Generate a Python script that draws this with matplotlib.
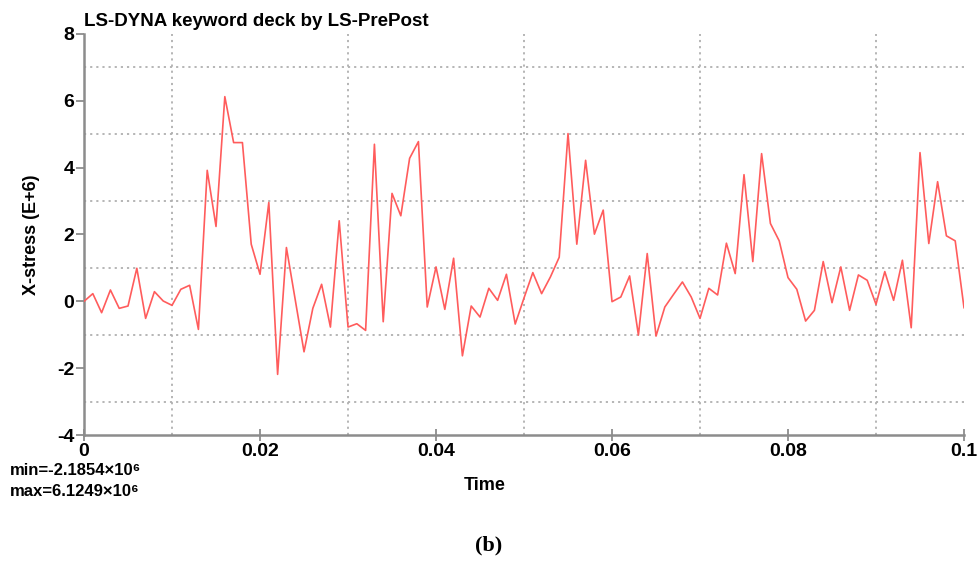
import numpy as np
import matplotlib
matplotlib.use("Agg")
import matplotlib.pyplot as plt
from matplotlib.ticker import FixedLocator

# X-stress history, one sample per millisecond (units of 1e6)
time = np.arange(101) * 0.001
stress = [
    0.00, 0.23, -0.34, 0.34, -0.21, -0.14, 0.99, -0.51, 0.29, 0.01,
    -0.12, 0.36, 0.48, -0.84, 3.92, 2.24, 6.1249, 4.75, 4.75, 1.71,
    0.81, 2.96, -2.1854, 1.61, 0.05, -1.51, -0.21, 0.51, -0.77, 2.41,
    -0.77, -0.67, -0.87, 4.70, -0.61, 3.23, 2.56, 4.28, 4.78, -0.17,
    1.03, -0.24, 1.29, -1.63, -0.14, -0.47, 0.39, 0.03, 0.81, -0.68,
    0.10, 0.86, 0.23, 0.73, 1.32, 5.02, 1.71, 4.22, 2.01, 2.73,
    -0.01, 0.13, 0.76, -1.01, 1.43, -1.04, -0.17, 0.21, 0.58, 0.13,
    -0.51, 0.39, 0.19, 1.74, 0.83, 3.79, 1.19, 4.42, 2.33, 1.81,
    0.71, 0.36, -0.59, -0.27, 1.19, -0.04, 1.03, -0.27, 0.79, 0.63,
    -0.09, 0.89, 0.03, 1.23, -0.79, 4.45, 1.73, 3.58, 1.96, 1.81,
    -0.19,
]
xticks = [0, 0.02, 0.04, 0.06, 0.08, 0.1]
xticklabels = ["0", "0.02", "0.04", "0.06", "0.08", "0.1"]
yticks = [-4, -2, 0, 2, 4, 6, 8]

sans = ["Liberation Sans", "DejaVu Sans"]
plt.rcParams["font.family"] = sans
plt.rcParams["font.weight"] = "bold"
plt.rcParams["axes.unicode_minus"] = False

fig = plt.figure(figsize=(9.77, 5.70), dpi=100)
ax = fig.add_axes([0.086, 0.2368, 0.9007, 0.7036])

ax.plot(time, stress, color="#ff5c5c", lw=1.2, zorder=3)

ax.set_xlim(0, 0.1)
ax.set_ylim(-4, 8)
ax.set_xticks(xticks)
ax.set_xticklabels(xticklabels)
ax.set_yticks(yticks)
ax.xaxis.set_minor_locator(FixedLocator([0.01, 0.03, 0.05, 0.07, 0.09]))
ax.yaxis.set_minor_locator(FixedLocator([-3, -1, 1, 3, 5, 7]))
ax.grid(which="minor", color="#b0b0b0", linestyle=(0, (1.2, 2.2)), lw=1.3)
ax.grid(which="major", visible=False)

for side in ("top", "right"):
    ax.spines[side].set_visible(False)
for side in ("left", "bottom"):
    ax.spines[side].set_color("#8c8c8c")
    ax.spines[side].set_linewidth(1.8)

ax.tick_params(which="minor", length=0)
ax.tick_params(axis="x", which="major", direction="inout", length=9, width=1.3,
               color="#8c8c8c", labelsize=14, pad=1)
ax.tick_params(axis="y", which="major", direction="out", length=6, width=1.3,
               color="#8c8c8c", labelsize=14, pad=1)

ax.set_ylabel("X-stress (E+6)", fontsize=13, fontweight="bold", labelpad=12)
fig.text(0.496, 0.148, "Time", fontsize=13, fontweight="bold", ha="center", va="center")
fig.text(0.086, 0.962, "LS-DYNA keyword deck by LS-PrePost", fontsize=13.5,
         fontweight="bold", ha="left", va="center")

smin = min(stress)
smax = max(stress)
fig.text(0.010, 0.175, f"min={smin:.4f}\u00d710\u2076", fontsize=12,
         fontweight="bold", ha="left", va="center")
fig.text(0.010, 0.138, f"max={smax:.4f}\u00d710\u2076", fontsize=12,
         fontweight="bold", ha="left", va="center")

fig.text(0.5, 0.043, "(b)", fontsize=16, fontweight="bold", ha="center", va="center",
         family=["Liberation Serif", "DejaVu Serif"])

fig.savefig("out.png", dpi=100)
